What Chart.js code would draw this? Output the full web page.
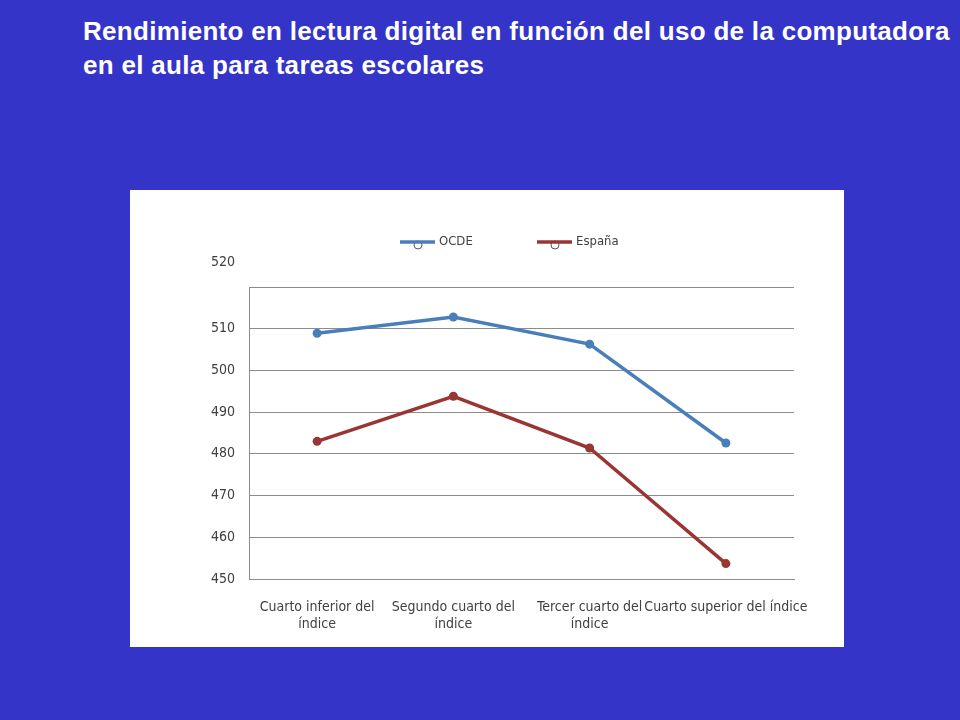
<!DOCTYPE html>
<html>
<head>
<meta charset="utf-8">
<script src="https://cdn.jsdelivr.net/npm/chart.js@4"></script>
<style>
  html, body { margin:0; padding:0; }
  body { width:960px; height:720px; background:#3434C9; position:relative; overflow:hidden; }
  #title { position:absolute; left:83px; top:14px; color:#fff; font-family:Arial, 'Liberation Sans', sans-serif;
           font-weight:bold; font-size:26px; letter-spacing:0.3px; line-height:34px; white-space:nowrap; }
  #box { position:absolute; left:130px; top:190px; width:714px; height:457px; background:#fff; }
</style>
</head>
<body>
<div id="title">Rendimiento en lectura digital en función del uso de la computadora<br>en el aula para tareas escolares</div>
<div id="box"><canvas id="c"></canvas></div>
<script>
const categories = [['Cuarto inferior del','índice'], ['Segundo cuarto del','índice'], ['Tercer cuarto del','índice'], 'Cuarto superior del índice'];
const seriesNames = ['OCDE', 'España'];
const ocde = [508.9, 512.8, 506.3, 482.6];
const espana = [483.0, 493.8, 481.4, 453.7];
const yTicks = [450, 460, 470, 480, 490, 500, 510, 520];

const FONT = "'Liberation Sans Narrow', 'DejaVu Sans Condensed', sans-serif";
const TXT = '#404040';
const GRID = '#8c8c8c';

const customDraw = {
  id: 'customDraw',
  afterDraw(chart) {
    const ctx = chart.ctx;
    const y = chart.scales.y;
    // top tick label (drawn offset above its gridline as in reference)
    ctx.save();
    ctx.font = '14px ' + FONT;
    ctx.fillStyle = TXT;
    ctx.textAlign = 'right';
    ctx.textBaseline = 'middle';
    const top = yTicks[yTicks.length - 1];
    ctx.fillText(String(top), y.right - 14, y.getPixelForValue(top) - 25);
    // legend
    const items = [
      { x: 270, label: seriesNames[0], color: chart.data.datasets[0].borderColor },
      { x: 407, label: seriesNames[1], color: chart.data.datasets[1].borderColor }
    ];
    const ly = 52;
    items.forEach(it => {
      ctx.beginPath();
      ctx.arc(it.x + 18, ly + 3, 4, 0, Math.PI * 2);
      ctx.fillStyle = '#fff';
      ctx.fill();
      ctx.lineWidth = 1;
      ctx.strokeStyle = '#555';
      ctx.stroke();
      ctx.beginPath();
      ctx.moveTo(it.x, ly);
      ctx.lineTo(it.x + 35, ly);
      ctx.lineWidth = 3.5;
      ctx.strokeStyle = it.color;
      ctx.stroke();
      ctx.fillStyle = TXT;
      ctx.textAlign = 'left';
      ctx.textBaseline = 'middle';
      ctx.font = '13px ' + FONT;
      ctx.fillText(it.label, it.x + 39, ly);
    });
    ctx.restore();
  }
};

new Chart(document.getElementById('c'), {
  type: 'line',
  data: {
    labels: categories,
    datasets: [
      { label: seriesNames[0], data: ocde, borderColor: '#4A7EBB', backgroundColor: '#4A7EBB',
        borderWidth: 3.5, pointRadius: 4.5, pointBackgroundColor: '#4A7EBB', pointBorderWidth: 0, tension: 0 },
      { label: seriesNames[1], data: espana, borderColor: '#983634', backgroundColor: '#983634',
        borderWidth: 3.5, pointRadius: 4.5, pointBackgroundColor: '#983634', pointBorderWidth: 0, tension: 0 }
    ]
  },
  options: {
    responsive: true,
    maintainAspectRatio: false,
    animation: false,
    layout: { padding: { top: 97, right: 50, left: 0, bottom: 0 } },
    plugins: { legend: { display: false }, tooltip: { enabled: false } },
    scales: {
      x: {
        offset: true,
        grid: { display: false },
        border: { display: true, color: GRID, width: 1 },
        ticks: { color: TXT, font: { family: FONT, size: 14 }, padding: 12, maxRotation: 0, autoSkip: false },
        afterFit(s) { s.height = 68; }
      },
      y: {
        min: 450, max: 520,
        afterBuildTicks(s) { s.ticks = yTicks.map(v => ({ value: v })); },
        grid: { color: GRID, lineWidth: 1, drawTicks: false },
        border: { display: true, color: GRID, width: 1 },
        ticks: { color: TXT, font: { family: FONT, size: 14 }, padding: 14,
                 callback: v => (v === yTicks[yTicks.length - 1] ? '' : String(v)) },
        afterFit(s) { s.width = 119; }
      }
    }
  },
  plugins: [customDraw]
});
</script>
</body>
</html>
